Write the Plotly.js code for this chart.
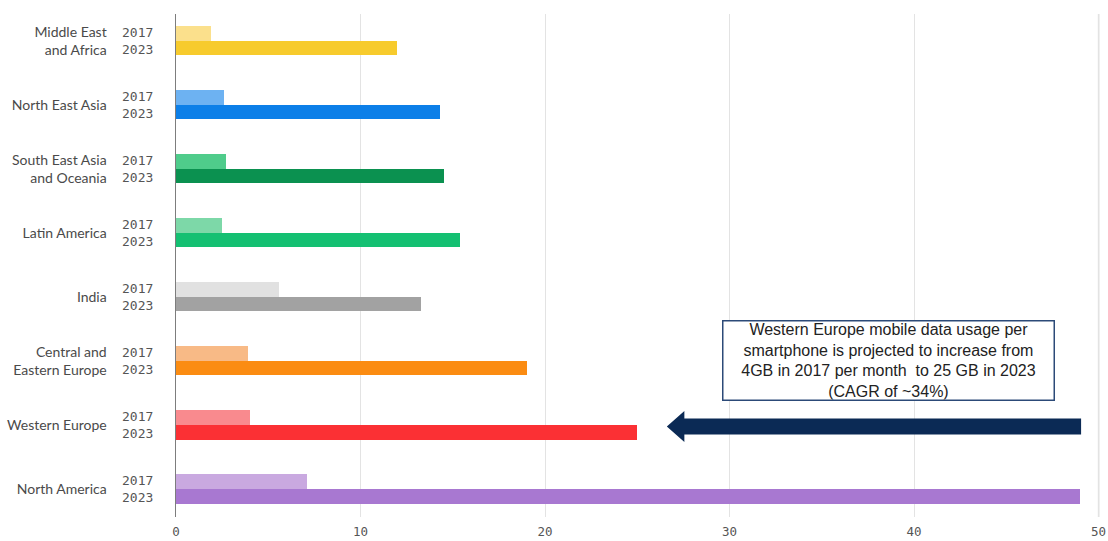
<!DOCTYPE html>
<html>
<head>
<meta charset="utf-8">
<script src="https://cdn.plot.ly/plotly-3.0.1.min.js"></script>
<style>
  html, body { margin: 0; padding: 0; background: #ffffff; }
  #chart { width: 1108px; height: 541px; }
</style>
</head>
<body>
<div id="chart"></div>
<script>
// Mobile data traffic per smartphone (GB per month), 2017 vs 2023
const regions = [
  "Middle East and Africa",
  "North East Asia",
  "South East Asia and Oceania",
  "Latin America",
  "India",
  "Central and Eastern Europe",
  "Western Europe",
  "North America"
];
const regionLabels = [
  "Middle East<br>and Africa",
  "North East Asia",
  "South East Asia<br>and Oceania",
  "Latin America",
  "India",
  "Central and<br>Eastern Europe",
  "Western Europe",
  "North America"
];
const years = ["2017", "2023"];
const usage2017 = [1.9, 2.6, 2.7, 2.5, 5.6, 3.9, 4, 7.1];
const usage2023 = [12, 14.3, 14.5, 15.4, 13.3, 19, 25, 49];
const colors2017 = ["#fbe08c", "#6db2f2", "#4fcc8b", "#7dd8a8", "#e1e1e1", "#f8ba86", "#f98a8e", "#c9a9e0"];
const colors2023 = ["#f7cb2d", "#0c7fe8", "#0b9150", "#14c072", "#a2a2a2", "#fb8c12", "#fb3034", "#a878d1"];
const xTicks = [0, 10, 20, 30, 40, 50];

const calloutText = "Western Europe mobile data usage per<br>smartphone is projected to increase from<br>4GB in 2017 per month  to 25 GB in 2023<br>(CAGR of ~34%)";

const barW = 0.227;

const traces = [
  {
    type: "bar", orientation: "h", name: years[0],
    y: regions, x: usage2017,
    width: barW, offset: -barW,
    marker: { color: colors2017, line: { width: 0 } },
    hoverinfo: "x+y"
  },
  {
    type: "bar", orientation: "h", name: years[1],
    y: regions, x: usage2023,
    width: barW, offset: 0,
    marker: { color: colors2023, line: { width: 0 } },
    hoverinfo: "x+y"
  }
];

// year labels beside each pair of bars
const yearNotes = regions.map(r => ({
  xref: "x", yref: "y", x: 0, y: r,
  xanchor: "right", yanchor: "middle",
  xshift: -21,
  text: years.join("<br>"),
  showarrow: false, align: "left",
  font: { family: "DejaVu Sans Mono, monospace", size: 13, color: "#555555" }
}));

// callout box describing Western Europe growth
const weIdx = regions.indexOf("Western Europe");
const callout = {
  xref: "x", yref: "y", x: 38.6, y: regions[5],
  xanchor: "center", yanchor: "middle",
  text: calloutText, showarrow: false, align: "center",
  width: 330, height: 78,
  bgcolor: "#ffffff", bordercolor: "#2c4a78", borderwidth: 1.5, borderpad: 0,
  font: { family: "Liberation Sans, Arial, sans-serif", size: 16, color: "#222222" }
};

// arrow pointing back at the Western Europe 2023 bar
const tipX = usage2023[weIdx] + 1.6;
const headX = tipX + 0.95;
const endX = usage2023[regions.length - 1] + 0.05;
const arrow = {
  type: "path", xref: "x", yref: "y",
  ysizemode: "pixel", yanchor: regions[weIdx],
  path: `M ${tipX} -1.5 L ${headX} 14 L ${headX} 6.5 L ${endX} 6.5 L ${endX} -9.5 L ${headX} -9.5 L ${headX} -17 Z`,
  fillcolor: "#0b2a55", line: { width: 0 }
};

// last vertical grid line at the end of the scale
const lastTick = xTicks[xTicks.length - 1];
const edgeGrid = {
  type: "line", xref: "x", yref: "y domain", layer: "below",
  x0: lastTick, x1: lastTick, y0: 0, y1: 1,
  line: { color: "#d6d6d6", width: 1.5 }
};

const layout = {
  width: 1108, height: 541,
  margin: { l: 175.5, r: 2, t: 14, b: 24, pad: 0 },
  paper_bgcolor: "#ffffff", plot_bgcolor: "#ffffff",
  showlegend: false,
  bargap: 0,
  xaxis: {
    range: [0, 50.4], tickvals: xTicks, ticktext: xTicks.map(String),
    showgrid: true, gridcolor: "#e3e3e3", gridwidth: 1,
    zeroline: false, showline: false, ticks: "",
    ticklabelstandoff: 5,
    tickfont: { family: "DejaVu Sans Mono, monospace", size: 12.5, color: "#555555" },
    fixedrange: true
  },
  yaxis: {
    type: "category",
    range: [7.4375, -0.42],
    tickvals: regions, ticktext: regionLabels,
    showgrid: false, zeroline: false,
    showline: true, linecolor: "#7d7d7d", linewidth: 1.5,
    ticks: "", ticklabelstandoff: 65,
    tickfont: { family: "Lato, Open Sans, sans-serif", size: 14, color: "#4a4a4a" },
    fixedrange: true
  },
  annotations: yearNotes.concat([callout]),
  shapes: [edgeGrid, arrow]
};

Plotly.newPlot("chart", traces, layout, { displayModeBar: false, staticPlot: true });
</script>
</body>
</html>
